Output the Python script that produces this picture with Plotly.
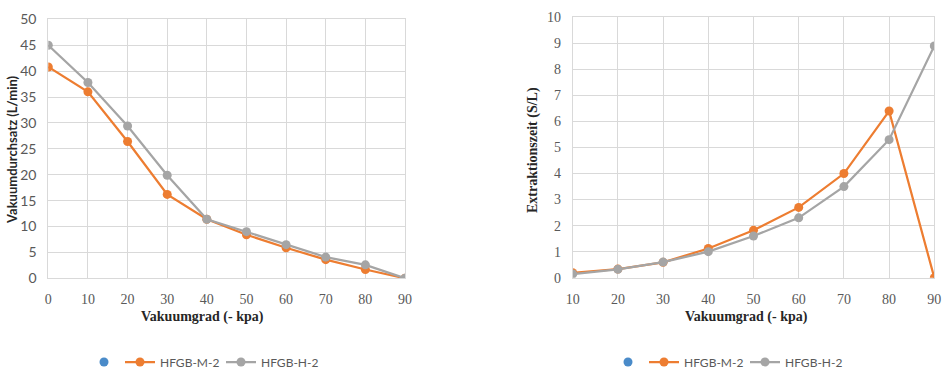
import plotly.graph_objects as go

# Data
vak_left = [0, 10, 20, 30, 40, 50, 60, 70, 80, 90]
durchsatz_M = [40.8, 36.0, 26.4, 16.2, 11.4, 8.4, 5.9, 3.6, 1.7, 0.0]
durchsatz_H = [45.0, 37.8, 29.4, 19.9, 11.4, 9.0, 6.5, 4.1, 2.6, 0.0]

vak_right = [10, 20, 30, 40, 50, 60, 70, 80, 90]
zeit_M = [0.19, 0.33, 0.59, 1.12, 1.82, 2.7, 4.0, 6.4, 0.0]
zeit_H = [0.14, 0.32, 0.6, 1.0, 1.6, 2.3, 3.5, 5.3, 8.9]

series_names = ["HFGB-M-2", "HFGB-H-2"]
x_title = "Vakuumgrad (- kpa)"
y_title_left = "Vakuumdurchsatz (L/min)"
y_title_right = "Extraktionszeit (S/L)"

ORANGE = "#ED7D31"
GRAY = "#A5A5A5"
BLUE = "#4A8BC9"
GRID = "#D9D9D9"
TICK = "#595959"
SANS = "Lato, 'Open Sans', sans-serif"
SERIF = "'Liberation Serif', 'DejaVu Serif', serif"

fig = go.Figure()

def add_set(x, ys, xa, ya, legend, dot_legend):
    fig.add_trace(go.Scatter(x=[None], y=[None], mode="markers", name="",
                             marker=dict(color=BLUE, size=9),
                             xaxis=xa, yaxis=ya, legend=dot_legend))
    for y, name, col in zip(ys, series_names, [ORANGE, GRAY]):
        fig.add_trace(go.Scatter(x=x, y=y, mode="lines+markers", name=name,
                                 line=dict(color=col, width=2.25),
                                 marker=dict(color=col, size=9),
                                 xaxis=xa, yaxis=ya, legend=legend))

add_set(vak_left, [durchsatz_M, durchsatz_H], "x", "y", "legend", "legend3")
add_set(vak_right, [zeit_M, zeit_H], "x2", "y2", "legend2", "legend4")

axis_common = dict(showgrid=True, gridcolor=GRID, gridwidth=1,
                   showline=True, linecolor=GRID, linewidth=1, mirror=True,
                   zeroline=False, ticks="", ticklabelstandoff=8, automargin=False)

LEG_Y = 1 - 362/379
def leg(x, ew):
    return dict(orientation="h", x=x/945, xanchor="left", y=LEG_Y, yanchor="middle",
                font=dict(family=SANS, size=12, color=TICK), itemclick=False,
                bgcolor="rgba(0,0,0,0)", tracegroupgap=0, entrywidth=ew,
                entrywidthmode="pixels")

fig.update_layout(
    width=945, height=379,
    margin=dict(l=0, r=0, t=0, b=0),
    paper_bgcolor="white", plot_bgcolor="white",
    showlegend=True,
    xaxis=dict(domain=[48.3/945, 405/945], range=[0, 90], tickvals=vak_left,
               tickfont=dict(family=SERIF, size=14, color=TICK), anchor="y", **axis_common),
    yaxis=dict(domain=[1-278.3/379, 1-19.3/379], range=[0, 50], dtick=5,
               tickfont=dict(family=SANS, size=14, color=TICK), anchor="x", **axis_common),
    xaxis2=dict(domain=[572.7/945, 934.3/945], range=[10, 90], tickvals=vak_right,
                tickfont=dict(family=SERIF, size=14, color=TICK), anchor="y2", **axis_common),
    yaxis2=dict(domain=[1-277.7/379, 1-17.3/379], range=[0, 10], dtick=1,
                tickfont=dict(family=SERIF, size=14, color=TICK), anchor="x2", **axis_common),
    legend=leg(120, 56),
    legend2=leg(644, 56),
    legend3=leg(84, 20),
    legend4=leg(608, 20),
    annotations=[
        dict(text="<b>" + x_title + "</b>", xref="paper", yref="paper",
             x=202/945, y=1-317/379, xanchor="center", yanchor="middle", showarrow=False,
             font=dict(family=SERIF, size=14, color="#262626")),
        dict(text="<b>" + x_title + "</b>", xref="paper", yref="paper",
             x=746/945, y=1-317/379, xanchor="center", yanchor="middle", showarrow=False,
             font=dict(family=SERIF, size=14, color="#262626")),
        dict(text="<b>" + y_title_left + "</b>", xref="paper", yref="paper",
             x=12/945, y=1-150/379, xanchor="center", yanchor="middle", showarrow=False,
             textangle=-90, font=dict(family=SANS, size=13, color="#262626")),
        dict(text="<b>" + y_title_right + "</b>", xref="paper", yref="paper",
             x=533/945, y=1-150/379, xanchor="center", yanchor="middle", showarrow=False,
             textangle=-90, font=dict(family=SERIF, size=14, color="#262626")),
    ],
)

fig.write_html("out.html", config={"displayModeBar": False},
               post_script="document.body.style.margin='0';")
